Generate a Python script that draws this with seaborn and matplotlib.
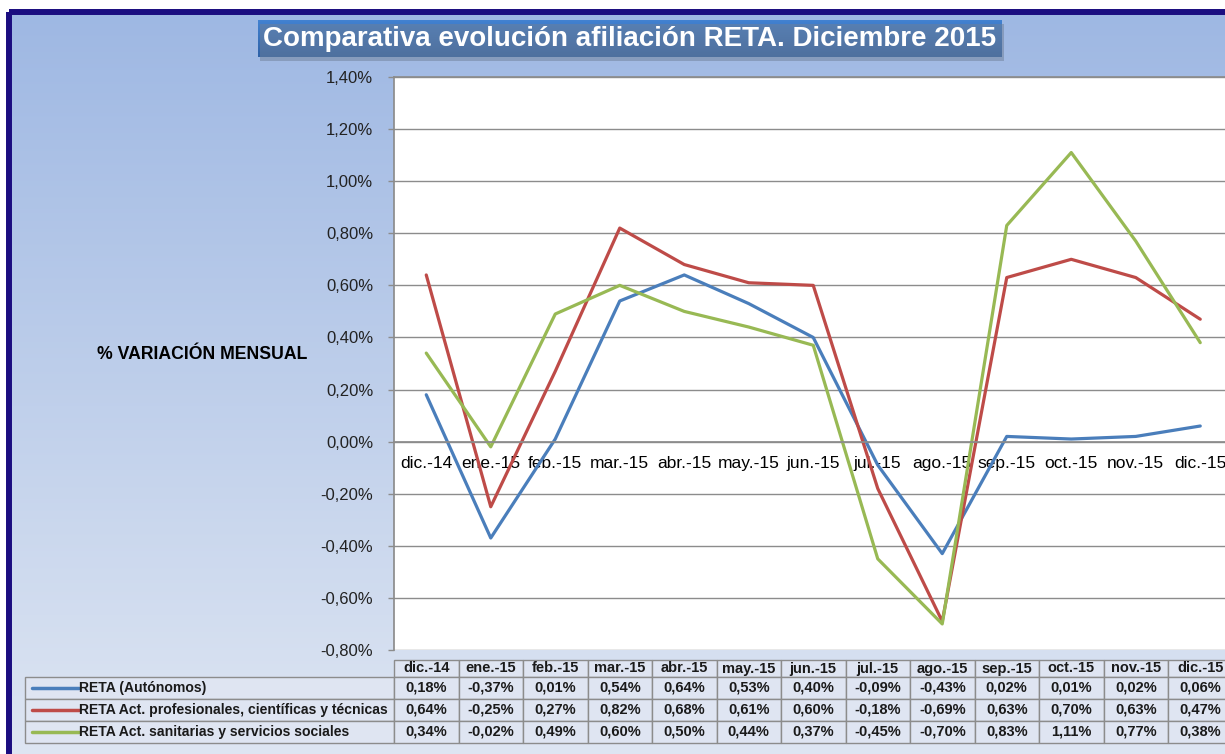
import numpy as np
import pandas as pd
import seaborn as sns
import matplotlib.pyplot as plt
import matplotlib.ticker as mticker
from matplotlib.patches import Rectangle
from matplotlib.lines import Line2D

# =========================
#  Data (% monthly variation)
# =========================
meses = ["dic.-14", "ene.-15", "feb.-15", "mar.-15", "abr.-15", "may.-15", "jun.-15",
         "jul.-15", "ago.-15", "sep.-15", "oct.-15", "nov.-15", "dic.-15"]

series_names = [
    "RETA (Autónomos)",
    "RETA Act. profesionales, científicas y técnicas",
    "RETA Act. sanitarias y servicios sociales",
]
autonomos = [0.18, -0.37, 0.01, 0.54, 0.64, 0.53, 0.40, -0.09, -0.43, 0.02, 0.01, 0.02, 0.06]
profesionales = [0.64, -0.25, 0.27, 0.82, 0.68, 0.61, 0.60, -0.18, -0.69, 0.63, 0.70, 0.63, 0.47]
sanitarias = [0.34, -0.02, 0.49, 0.60, 0.50, 0.44, 0.37, -0.45, -0.70, 0.83, 1.11, 0.77, 0.38]

y_ticks = [-0.8, -0.6, -0.4, -0.2, 0.0, 0.2, 0.4, 0.6, 0.8, 1.0, 1.2, 1.4]

colores = ["#4a7ebb", "#be4b48", "#98b954"]

df = pd.DataFrame({
    "mes": meses * 3,
    "valor": autonomos + profesionales + sanitarias,
    "serie": np.repeat(series_names, len(meses)),
})


def pct(v):
    return f"{v:.2f}%".replace(".", ",")


sns.set_theme(style="white")
plt.rcParams["font.family"] = ["Liberation Sans", "DejaVu Sans"]

W, H = 1225, 754
fig = plt.figure(figsize=(W / 100, H / 100), dpi=100)
fig.patch.set_facecolor("white")

# background gradient + dark frame
bg = fig.add_axes([0, 0, 1, 1], zorder=0)
bg.set_xlim(0, W)
bg.set_ylim(H, 0)
bg.axis("off")
grad = np.linspace(0, 1, 256).reshape(-1, 1)
top = np.array([0.62, 0.72, 0.89])
bot = np.array([0.87, 0.90, 0.95])
img = top + (bot - top) * grad[..., None]
bg.imshow(img, extent=(9, W + 10, H, 12), aspect="auto", zorder=0)
bg.add_patch(Rectangle((9, 11.5), W + 20, H + 20, fill=False, ec="#1b0d80", lw=4.3, zorder=2))

# main plot
x0, x1, yt, yb = 394, 1232.5, 77, 650
ax = fig.add_axes([x0 / W, 1 - yb / H, (x1 - x0) / W, (yb - yt) / H], zorder=1)
ax.set_facecolor("white")

sns.lineplot(data=df, x="mes", y="valor", hue="serie", palette=colores,
             sort=False, legend=False, lw=2.3, ax=ax)

ax.set_xlim(-0.5, len(meses) - 0.5)
ax.set_ylim(-0.8, 1.4)
ax.set_yticks(y_ticks)
ax.yaxis.set_major_formatter(mticker.FuncFormatter(lambda v, p: pct(v)))
ax.grid(axis="y", color="#8c8c8c", lw=1)
ax.set_axisbelow(True)
for s in ["left", "top"]:
    ax.spines[s].set_color("#8c8c8c")
ax.spines["right"].set_visible(False)
ax.spines["bottom"].set_position(("data", 0))
ax.spines["bottom"].set_color("#8c8c8c")
ax.tick_params(axis="x", length=0, pad=10, labelsize=12.5, colors="black")
ax.tick_params(axis="y", left=True, length=4, width=1, color="#8c8c8c",
               pad=11, labelsize=12, labelcolor="#222222")
ax.set_xlabel("")
ax.set_ylabel("% VARIACIÓN MENSUAL", rotation=0, ha="right", va="center",
              fontsize=12.7, fontweight="bold", color="black")
ax.yaxis.set_label_coords((307 - x0) / (x1 - x0), (yb - 355) / (yb - yt))

# overlay: title + data table
ov = fig.add_axes([0, 0, 1, 1], zorder=2)
ov.axis("off")

tx0, tx1, ty0, ty1 = 258, 1002, 20, 57
ov.add_patch(Rectangle((tx0 + 2, ty0 + 4), tx1 - tx0, ty1 - ty0, fc="#6f7f98", ec="none", alpha=0.5))
ttop = np.array([0.26, 0.51, 0.82])
tbot = np.array([0.18, 0.38, 0.65])
ov.imshow(ttop + (tbot - ttop) * grad[..., None], extent=(tx0, tx1, ty1, ty0), aspect="auto")
ov.text((tx0 + tx1) / 2, (ty0 + ty1) / 2 + 1, "Comparativa evolución afiliación RETA. Diciembre 2015",
        ha="center", va="center", color="white", fontsize=20, fontweight="bold")
ov.set_xlim(0, W)
ov.set_ylim(H, 0)

cw = (x1 - x0) / len(meses)
rows_y = [660, 677, 699, 721, 743]
grid_c = "#8c8c8c"
cell_c = "#dfe5f2"
fs = 10.5
# header
for i, m in enumerate(meses):
    cx = x0 + i * cw
    ov.add_patch(Rectangle((cx, rows_y[0]), cw, rows_y[1] - rows_y[0], fc=cell_c, ec=grid_c, lw=1))
    ov.text(cx + cw / 2, (rows_y[0] + rows_y[1]) / 2, m, ha="center", va="center",
            fontsize=fs, fontweight="bold", color="#1a1a1a")
# body
for r, (name, vals, col) in enumerate(zip(series_names, [autonomos, profesionales, sanitarias], colores)):
    ya, yb2 = rows_y[r + 1], rows_y[r + 2]
    ym = (ya + yb2) / 2
    ov.add_patch(Rectangle((25, ya), x0 - 25, yb2 - ya, fc=cell_c, ec=grid_c, lw=1))
    ov.add_line(Line2D([32, 79], [ym, ym], color=col, lw=2.5))
    ov.text(79, ym, name, ha="left", va="center", fontsize=10.1, fontweight="bold", color="#1a1a1a")
    for i, v in enumerate(vals):
        cx = x0 + i * cw
        ov.add_patch(Rectangle((cx, ya), cw, yb2 - ya, fc=cell_c, ec=grid_c, lw=1))
        ov.text(cx + cw / 2, ym, pct(v), ha="center", va="center",
                fontsize=fs, fontweight="bold", color="#1a1a1a")

fig.savefig("out.png", dpi=100)
